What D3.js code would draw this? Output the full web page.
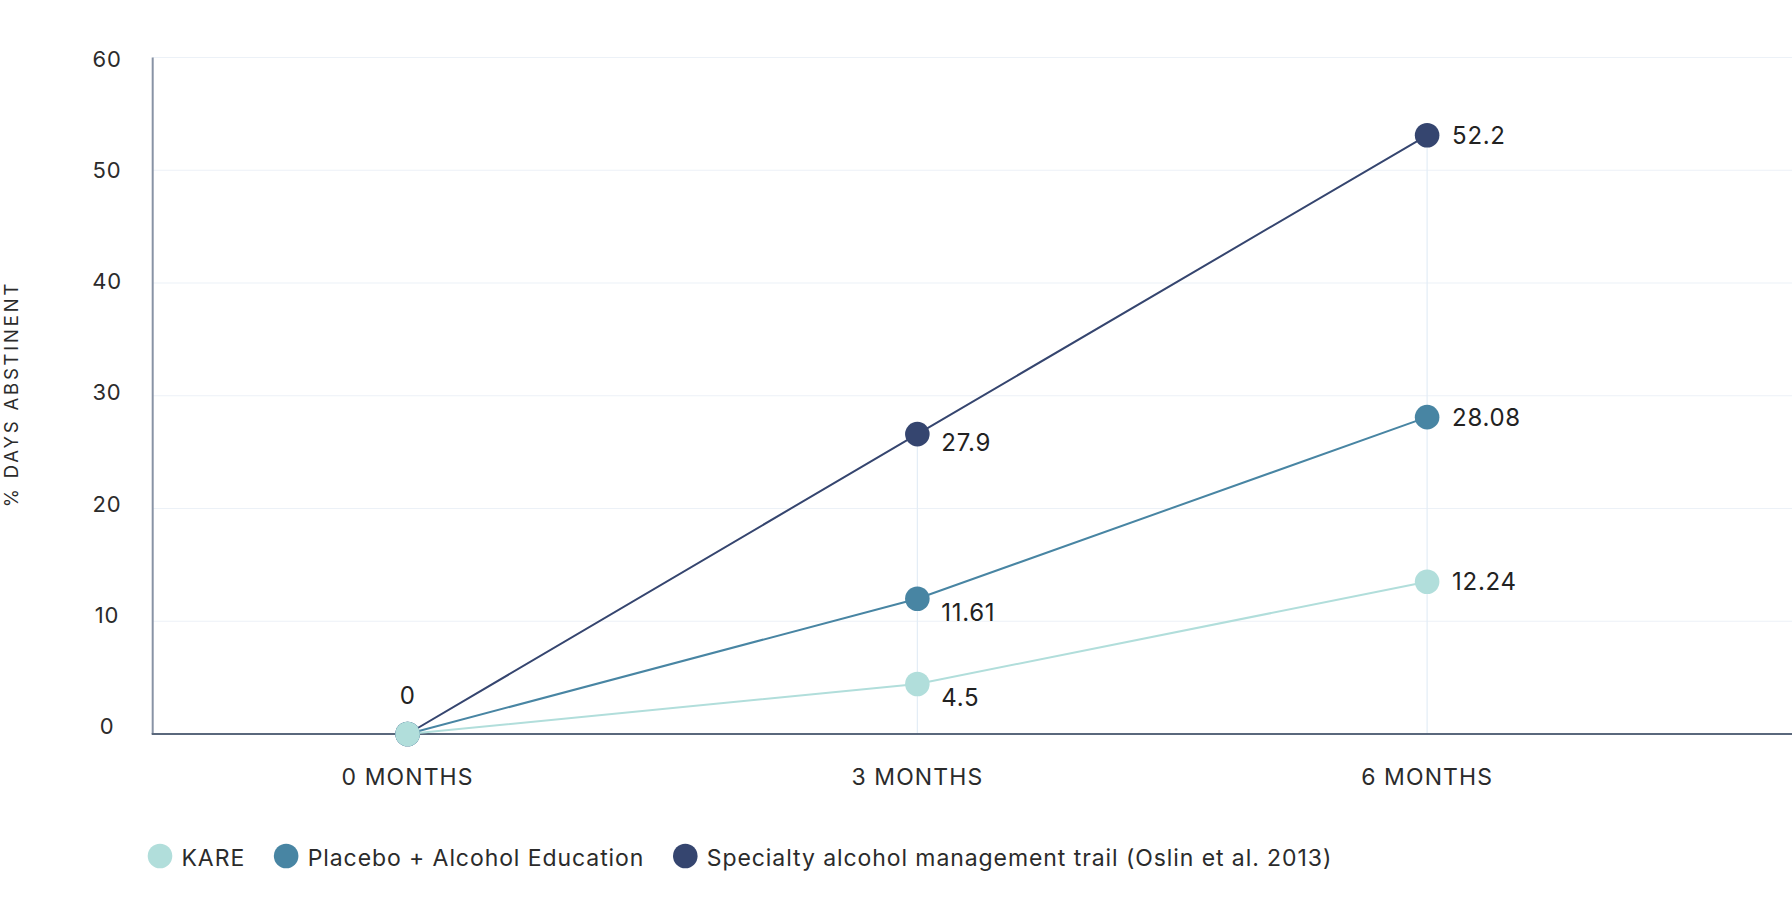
<!DOCTYPE html>
<html>
<head>
<meta charset="utf-8">
<script src="https://cdn.jsdelivr.net/npm/d3@7"></script>
<style>
  html, body { margin: 0; padding: 0; background: #ffffff; }
  svg { display: block; font-family: Inter, "Noto Sans", sans-serif; }
</style>
</head>
<body>
<svg id="chart" width="1792" height="917"></svg>
<script>
// ---- data ----
const categories = ["0 MONTHS", "3 MONTHS", "6 MONTHS"];
const seriesNames = ["KARE", "Placebo + Alcohol Education", "Specialty alcohol management trail (Oslin et al. 2013)"];
const kareValues = [0, 4.44, 13.5];
const placeboValues = [0, 12.0, 28.1];
const specialtyValues = [0, 26.6, 53.1];
const kareLabels = ["0", "4.5", "12.24"];
const placeboLabels = ["", "11.61", "28.08"];
const specialtyLabels = ["", "27.9", "52.2"];
const yTicks = [0, 10, 20, 30, 40, 50, 60];
const yTitle = "% DAYS ABSTINENT";
const colors = ["#b1dedb", "#4885a3", "#35456f"];

(function () {
const series = [
  { name: seriesNames[0], values: kareValues, labels: kareLabels, color: colors[0] },
  { name: seriesNames[1], values: placeboValues, labels: placeboLabels, color: colors[1] },
  { name: seriesNames[2], values: specialtyValues, labels: specialtyLabels, color: colors[2] }
];

const plotLeft = 152.7, plotRight = 1792, plotTop = 57.5, plotBottom = 734;

const svg = d3.select("#chart");

const x = d3.scalePoint().domain(categories).range([plotLeft, 1682]).padding(0.5);
const y = d3.scaleLinear().domain([0, 60]).range([plotBottom, plotTop]);
const yLabel = d3.scaleLinear().domain([0, 60]).range([plotBottom - 8, plotTop + 1]);

// gridlines
svg.append("g").selectAll("line").data(yTicks.filter(d => d > 0)).join("line")
  .attr("x1", plotLeft).attr("x2", plotRight)
  .attr("y1", d => y(d)).attr("y2", d => y(d))
  .attr("stroke", "#ecf1f7").attr("stroke-width", 1.2);

// vertical drop lines
const maxAt = categories.map((c, i) => d3.max(series, s => s.values[i]));
svg.append("g").selectAll("line").data(categories.filter((c, i) => i > 0)).join("line")
  .attr("x1", d => x(d)).attr("x2", d => x(d))
  .attr("y1", d => y(maxAt[categories.indexOf(d)])).attr("y2", y(0))
  .attr("stroke", "#e3edf6").attr("stroke-width", 1.2);

// y tick labels
svg.append("g").selectAll("text").data(yTicks).join("text")
  .attr("x", 107).attr("y", d => yLabel(d))
  .attr("text-anchor", "middle").attr("dominant-baseline", "central")
  .attr("font-size", 22).attr("fill", "#2b2b2b").attr("letter-spacing", 0.8)
  .text(d => d);

// axes lines
svg.append("line").attr("x1", plotLeft).attr("x2", plotLeft).attr("y1", plotTop).attr("y2", plotBottom)
  .attr("stroke", "#8893a5").attr("stroke-width", 2);
svg.append("line").attr("x1", plotLeft - 1).attr("x2", plotRight).attr("y1", plotBottom).attr("y2", plotBottom)
  .attr("stroke", "#5a687c").attr("stroke-width", 2);

// x tick labels
svg.append("g").selectAll("text").data(categories).join("text")
  .attr("x", d => x(d)).attr("y", 777)
  .attr("text-anchor", "middle").attr("dominant-baseline", "central")
  .attr("font-size", 23).attr("fill", "#2b2b2b").attr("letter-spacing", 1.1)
  .text(d => d);

// y title
svg.append("text")
  .attr("transform", `translate(10.5,394) rotate(-90)`)
  .attr("text-anchor", "middle").attr("dominant-baseline", "central")
  .attr("font-size", 18.5).attr("fill", "#2b2b2b").attr("letter-spacing", 2.8)
  .text(yTitle);

// lines
const line = d3.line().x((d, i) => x(categories[i])).y(d => y(d));
svg.append("g").selectAll("path").data(series).join("path")
  .attr("d", s => line(s.values))
  .attr("fill", "none").attr("stroke", s => s.color).attr("stroke-width", 2);

// points (draw specialty first so KARE is on top)
series.slice().reverse().forEach(s => {
  svg.append("g").selectAll("circle").data(s.values).join("circle")
    .attr("cx", (d, i) => x(categories[i])).attr("cy", d => y(d))
    .attr("r", 12.3).attr("fill", s.color);
});

// data labels
series.forEach((s, si) => {
  s.values.forEach((v, i) => {
    const lab = s.labels[i];
    if (!lab) return;
    const px = x(categories[i]), py = y(v);
    const t = svg.append("text").attr("font-size", 24).attr("fill", "#222")
      .attr("letter-spacing", 0.7)
      .attr("dominant-baseline", "central").text(lab);
    if (i === 0) {
      t.attr("x", px).attr("y", py - 39).attr("text-anchor", "middle");
    } else if (i === 1) {
      t.attr("x", px + 24).attr("y", py + (si === series.length - 1 ? 8.5 : 14));
    } else {
      t.attr("x", px + 25).attr("y", py);
    }
  });
});

// legend
const legend = svg.append("g");
let lx = 160;
series.forEach(s => {
  legend.append("circle").attr("cx", lx).attr("cy", 856).attr("r", 12.3).attr("fill", s.color);
  const t = legend.append("text").attr("x", lx + 21.5).attr("y", 857.5)
    .attr("dominant-baseline", "central").attr("font-size", 23).attr("fill", "#2b2b2b")
    .attr("letter-spacing", 0.92)
    .text(s.name);
  lx += 21.5 + t.node().getComputedTextLength() + 41;
});
})();
</script>
</body>
</html>
